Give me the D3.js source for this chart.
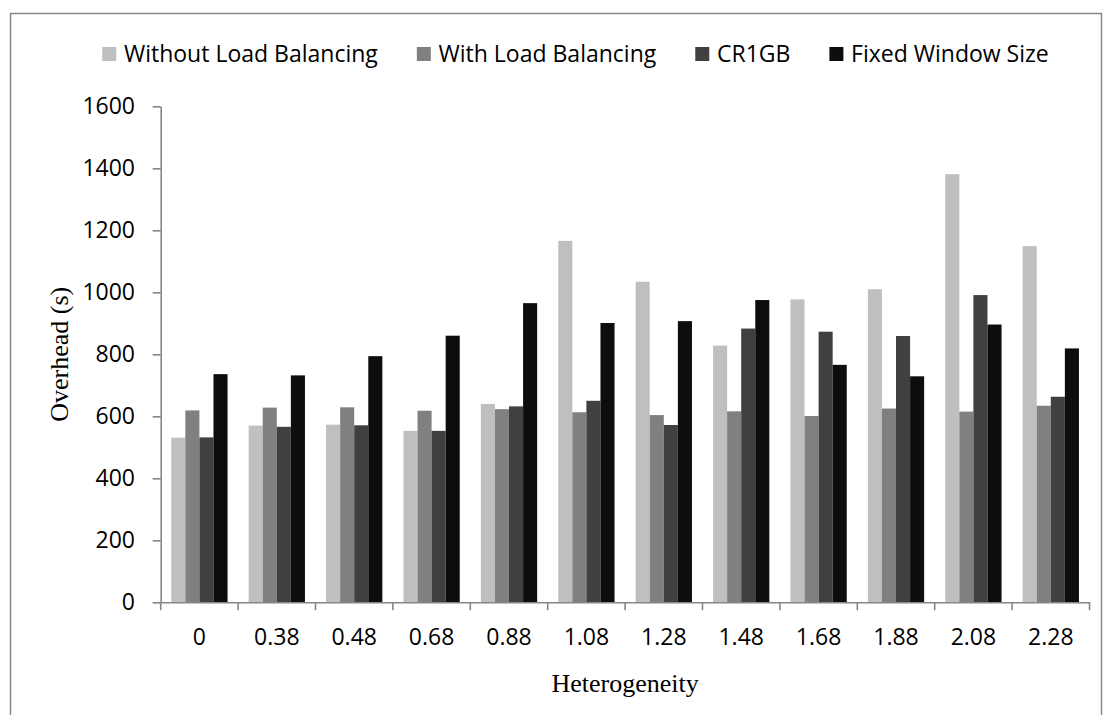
<!DOCTYPE html>
<html>
<head>
<meta charset="utf-8">
<script src="https://cdn.jsdelivr.net/npm/d3@7"></script>
<style>
  html, body { margin: 0; padding: 0; background: #fff; }
  svg { display: block; }
</style>
</head>
<body>
<svg id="chart" width="1105" height="715"></svg>
<script>
const categories = ["0", "0.38", "0.48", "0.68", "0.88", "1.08", "1.28", "1.48", "1.68", "1.88", "2.08", "2.28"];
const seriesNames = ["Without Load Balancing", "With Load Balancing", "CR1GB", "Fixed Window Size"];
const withoutLB = [531, 570, 573, 553, 640, 1166, 1034, 828, 977, 1010, 1381, 1149];
const withLB    = [619, 628, 629, 618, 623, 613, 604, 616, 601, 625, 615, 634];
const cr1gb     = [532, 566, 571, 553, 632, 650, 572, 883, 873, 859, 991, 663];
const fixedWin  = [736, 732, 794, 860, 965, 901, 907, 975, 766, 729, 896, 819];
const yTicks = [0, 200, 400, 600, 800, 1000, 1200, 1400, 1600];
const colors = ["#BFBFBF", "#808080", "#404040", "#0D0D0D"];

const seriesValues = [withoutLB, withLB, cr1gb, fixedWin];

const svg = d3.select("#chart");
const font = "'Open Sans', sans-serif";
const serif = "'Liberation Serif', 'Times New Roman', serif";
const axisColor = "#868686";

// outer border
svg.append("rect")
  .attr("x", 10.5).attr("y", 13.5)
  .attr("width", 1091).attr("height", 720)
  .attr("fill", "#fff").attr("stroke", "#898989").attr("stroke-width", 1.5);

const plotLeft = 160.7, plotRight = 1089.5, plotTop = 106.3, plotBottom = 602.3;

const x = d3.scaleBand().domain(categories).range([plotLeft, plotRight]).paddingInner(0).paddingOuter(0);
const xs = d3.scaleBand().domain(d3.range(seriesNames.length)).range([0, x.bandwidth()])
  .paddingInner(0).paddingOuter(0.75);
const y = d3.scaleLinear().domain([0, 1600]).range([plotBottom, plotTop]);

// bars
const groups = svg.append("g").selectAll("g")
  .data(seriesValues)
  .join("g")
  .attr("fill", (d, i) => colors[i]);

groups.each(function(vals, si) {
  d3.select(this).selectAll("rect")
    .data(vals.map((v, ci) => ({ v, c: categories[ci] })))
    .join("rect")
    .attr("x", d => x(d.c) + xs(si))
    .attr("width", xs.bandwidth())
    .attr("y", d => y(d.v))
    .attr("height", d => y(0) - y(d.v));
});

// y axis
const yAxis = svg.append("g")
  .attr("transform", `translate(${plotLeft},0)`)
  .call(d3.axisLeft(y).tickValues(yTicks).tickFormat(d3.format("d"))
    .tickSize(8).tickPadding(17.7).tickSizeOuter(0));
yAxis.select(".domain").attr("stroke", axisColor).attr("stroke-width", 1.6);
yAxis.selectAll(".tick line").attr("stroke", axisColor).attr("stroke-width", 1.6);
yAxis.selectAll(".tick text").attr("font-family", font).attr("font-size", 23).attr("fill", "#000");

// x axis
const xAxis = svg.append("g")
  .attr("transform", `translate(0,${plotBottom})`)
  .call(d3.axisBottom(x).tickSize(0).tickPadding(26).tickSizeOuter(0));
xAxis.select(".domain").attr("stroke", axisColor).attr("stroke-width", 1.6);
xAxis.selectAll(".tick text").attr("font-family", font).attr("font-size", 23).attr("fill", "#000");

// category boundary ticks
const bounds = categories.map(c => x(c)).concat([x.range()[1]]);
xAxis.selectAll("line.bound")
  .data(bounds)
  .join("line")
  .attr("class", "bound")
  .attr("x1", d => d).attr("x2", d => d)
  .attr("y1", 0).attr("y2", 8)
  .attr("stroke", axisColor).attr("stroke-width", 1.6);

// axis titles
svg.append("text")
  .attr("transform", `translate(68,${(plotTop + plotBottom) / 2}) rotate(-90)`)
  .attr("text-anchor", "middle")
  .attr("font-family", serif)
  .attr("font-size", 26)
  .attr("fill", "#000")
  .text("Overhead (s)");

svg.append("text")
  .attr("x", (plotLeft + plotRight) / 2)
  .attr("y", 692)
  .attr("text-anchor", "middle")
  .attr("font-family", serif)
  .attr("font-size", 26)
  .attr("fill", "#000")
  .text("Heterogeneity");

// legend
const legend = svg.append("g");
const items = legend.selectAll("g").data(seriesNames).join("g");
items.append("rect")
  .attr("width", 14).attr("height", 14)
  .attr("y", 47)
  .attr("fill", (d, i) => colors[i]);
items.append("text")
  .attr("x", 21.7).attr("y", 62)
  .attr("font-family", font).attr("font-size", 23).attr("fill", "#000")
  .text(d => d);
let widths = [];
items.each(function() { widths.push(this.querySelector("text").getComputedTextLength() + 21.7); });
const gap = 39;
const total = d3.sum(widths) + gap * (widths.length - 1);
let cx = 575.5 - total / 2;
items.attr("transform", (d, i) => {
  const t = `translate(${cx},0)`;
  cx += widths[i] + gap;
  return t;
});
</script>
</body>
</html>
